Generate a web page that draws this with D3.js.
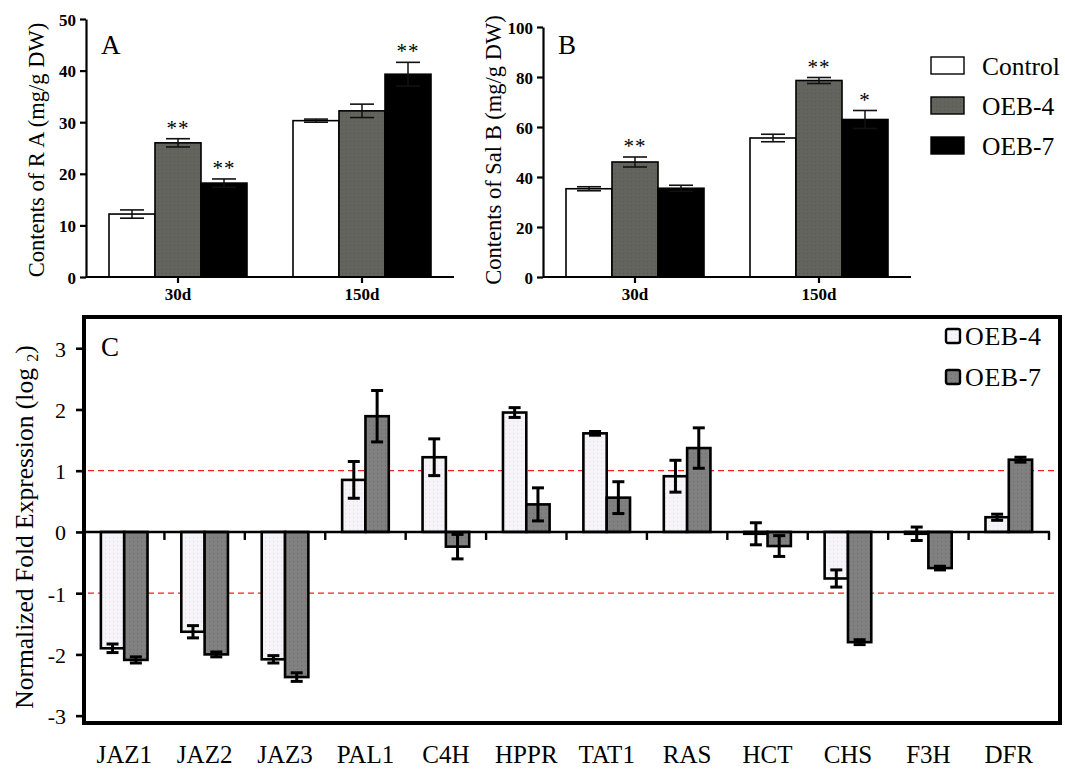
<!DOCTYPE html>
<html>
<head>
<meta charset="utf-8">
<script src="https://cdn.jsdelivr.net/npm/d3@7/dist/d3.min.js"></script>
<style>
  body { margin: 0; background: #fff; }
  svg { display: block; font-family: "Liberation Serif", "Times New Roman", serif; }
</style>
</head>
<body>
<svg width="1065" height="771"></svg>
<script>
// panels A and B
var groups = ['30d', '150d'];
var lines = ['Control', 'OEB-4', 'OEB-7'];
var lineFill = ['#ffffff', '#62625c', '#000000'];

var raMean = [[12.2, 26.0, 18.2], [30.3, 32.2, 39.3]];
var raErr = [[0.8, 0.8, 0.8], [0.3, 1.3, 2.3]];
var raStars = [['', '**', '**'], ['', '', '**']];

var salMean = [[35.3, 46.0, 35.5], [55.6, 78.6, 63.0]];
var salErr = [[0.8, 2.0, 1.2], [1.5, 1.2, 3.6]];
var salStars = [['', '**', ''], ['', '**', '*']];

var raTicks = [0, 10, 20, 30, 40, 50];
var salTicks = [0, 20, 40, 60, 80, 100];

// panel C
var genes = ['JAZ1', 'JAZ2', 'JAZ3', 'PAL1', 'C4H', 'HPPR', 'TAT1', 'RAS', 'HCT', 'CHS', 'F3H', 'DFR'];
var oeb4Mean = [-1.90, -1.63, -2.08, 0.85, 1.22, 1.95, 1.61, 0.91, -0.03, -0.76, -0.03, 0.24];
var oeb4Err  = [0.07, 0.10, 0.06, 0.30, 0.30, 0.08, 0.03, 0.26, 0.18, 0.14, 0.11, 0.05];
var oeb7Mean = [-2.09, -2.00, -2.37, 1.89, -0.24, 0.45, 0.56, 1.37, -0.23, -1.80, -0.59, 1.18];
var oeb7Err  = [0.05, 0.04, 0.07, 0.42, 0.20, 0.27, 0.26, 0.33, 0.17, 0.04, 0.03, 0.04];
var cTicks = [-3, -2, -1, 0, 1, 2, 3];
var cRefLines = [1, -1];

var serif = 'Liberation Serif, Times New Roman, serif';
var svg = d3.select('svg');

var defs = svg.append('defs');
function dots(id, bg, dot) {
  var p = defs.append('pattern').attr('id', id)
    .attr('width', 4).attr('height', 4).attr('patternUnits', 'userSpaceOnUse');
  p.append('rect').attr('width', 4).attr('height', 4).attr('fill', bg);
  p.append('rect').attr('x', 1).attr('y', 1).attr('width', 1).attr('height', 1).attr('fill', dot);
}
dots('dg-light', '#f6f4f8', '#e2dde6');
dots('dg-dark', '#808080', '#6c6c66');
dots('dg-ab', '#64645e', '#56564f');

function barPanel(x0, x1, yTop, yMax, ticks, mean, err, stars, letter, label) {
  var g = svg.append('g');
  var x = d3.scaleBand().domain(groups).range([x0, x1]).paddingInner(0.25).paddingOuter(0.125);
  var xs = d3.scaleBand().domain(lines).range([0, x.bandwidth()]);
  var y = d3.scaleLinear().domain([0, yMax]).range([277, yTop]);

  var grp = g.selectAll('.grp').data(groups).enter().append('g')
    .attr('transform', function(d) { return 'translate(' + x(d) + ',0)'; });

  grp.each(function(gname, gi) {
    var sel = d3.select(this);
    lines.forEach(function(s, si) {
      var v = mean[gi][si], e = err[gi][si], cx = xs(s) + xs.bandwidth() / 2;
      sel.append('rect')
        .attr('x', xs(s)).attr('y', y(v))
        .attr('width', xs.bandwidth()).attr('height', y(0) - y(v))
        .attr('fill', si === 1 ? 'url(#dg-ab)' : lineFill[si])
        .attr('stroke', '#000').attr('stroke-width', 1.6);
      sel.append('line').attr('x1', cx).attr('x2', cx)
        .attr('y1', y(v - e)).attr('y2', y(v + e))
        .attr('stroke', '#111').attr('stroke-width', 1.5);
      [v + e, v - e].forEach(function(t) {
        sel.append('line').attr('x1', cx - 12).attr('x2', cx + 12)
          .attr('y1', y(t)).attr('y2', y(t))
          .attr('stroke', '#111').attr('stroke-width', 1.6);
      });
      if (stars[gi][si]) {
        sel.append('text').attr('x', cx).attr('y', y(v + e) - 4)
          .attr('text-anchor', 'middle').attr('font-size', 21)
          .attr('letter-spacing', 1).text(stars[gi][si]);
      }
    });
  });

  var ya = g.append('g').attr('transform', 'translate(' + x0 + ',0)')
    .call(d3.axisLeft(y).tickValues(ticks).tickSize(6).tickSizeOuter(0).tickPadding(4));
  ya.select('.domain').attr('stroke-width', 2.2);
  ya.selectAll('.tick line').attr('stroke-width', 2.2);
  ya.selectAll('.tick text').attr('font-family', serif).attr('font-weight', 'bold')
    .attr('font-size', 17).attr('fill', '#000').attr('dy', '0.36em');

  var xa = g.append('g').attr('transform', 'translate(0,277)')
    .call(d3.axisBottom(x).tickSize(6).tickSizeOuter(0).tickPadding(5));
  xa.select('.domain').attr('stroke-width', 2.2).attr('d', 'M' + x0 + ',0H' + x1);
  xa.selectAll('.tick line').attr('stroke-width', 2.2);
  xa.selectAll('.tick text').attr('font-family', serif).attr('font-weight', 'bold')
    .attr('font-size', 17).attr('fill', '#000');

  g.append('text').attr('x', x0 + 15).attr('y', 54).attr('font-size', 27).text(letter);
  g.append('text').attr('transform', 'translate(' + (x0 - 42) + ',150) rotate(-90)')
    .attr('text-anchor', 'middle').attr('font-size', 22.5).text(label);
}

barPanel(86, 454, 19, 50, raTicks, raMean, raErr, raStars, 'A', 'Contents of R A (mg/g DW)');
barPanel(543, 911, 27, 100, salTicks, salMean, salErr, salStars, 'B', 'Contents of Sal B (mg/g DW)');

// legend for A and B
var lg = svg.append('g').attr('transform', 'translate(931,57)');
lines.forEach(function(s, i) {
  lg.append('rect').attr('x', 0).attr('y', i * 40).attr('width', 33).attr('height', 17)
    .attr('fill', i === 1 ? 'url(#dg-ab)' : lineFill[i]).attr('stroke', '#000').attr('stroke-width', 1.4);
  lg.append('text').attr('x', 51).attr('y', i * 40 + 18).attr('font-size', 25.5).text(s);
});

// panel C
var cL = 84, cR = 1060, cT = 317, cB = 723;
var gc = svg.append('g');
var xc = d3.scaleBand().domain(genes).range([84, 1049]).paddingInner(0.42).paddingOuter(0.21);
var xc2 = d3.scaleBand().domain(['OEB-4', 'OEB-7']).range([0, xc.bandwidth()]);
var yc = d3.scaleLinear().domain([-3.12, 3.51]).range([cB, cT]);

gc.selectAll('.ref').data(cRefLines).enter().append('line')
  .attr('x1', cL + 4).attr('x2', cR - 6)
  .attr('y1', function(d) { return yc(d); }).attr('y2', function(d) { return yc(d); })
  .attr('stroke', '#ee2222').attr('stroke-width', 1.2).attr('stroke-dasharray', '6,4');

var series = [
  { key: 'OEB-4', mean: oeb4Mean, err: oeb4Err, fill: 'url(#dg-light)' },
  { key: 'OEB-7', mean: oeb7Mean, err: oeb7Err, fill: 'url(#dg-dark)' }
];

series.forEach(function(s) {
  var bars = gc.selectAll('.b-' + s.key).data(genes).enter().append('g');
  bars.append('rect')
    .attr('x', function(d) { return xc(d) + xc2(s.key); })
    .attr('y', function(d, i) { return yc(Math.max(0, s.mean[i])); })
    .attr('width', xc2.bandwidth())
    .attr('height', function(d, i) { return Math.abs(yc(s.mean[i]) - yc(0)); })
    .attr('fill', s.fill).attr('stroke', '#000').attr('stroke-width', 2.6);
  bars.append('line')
    .attr('x1', function(d) { return xc(d) + xc2(s.key) + xc2.bandwidth() / 2; })
    .attr('x2', function(d) { return xc(d) + xc2(s.key) + xc2.bandwidth() / 2; })
    .attr('y1', function(d, i) { return yc(s.mean[i] - s.err[i]); })
    .attr('y2', function(d, i) { return yc(s.mean[i] + s.err[i]); })
    .attr('stroke', '#000').attr('stroke-width', 3);
  [1, -1].forEach(function(sign) {
    bars.append('line')
      .attr('x1', function(d) { return xc(d) + xc2(s.key) + xc2.bandwidth() / 2 - 6; })
      .attr('x2', function(d) { return xc(d) + xc2(s.key) + xc2.bandwidth() / 2 + 6; })
      .attr('y1', function(d, i) { return yc(s.mean[i] + sign * s.err[i]); })
      .attr('y2', function(d, i) { return yc(s.mean[i] + sign * s.err[i]); })
      .attr('stroke', '#000').attr('stroke-width', 3);
  });
});

// zero line with category ticks
gc.append('line').attr('x1', cL).attr('x2', 1050).attr('y1', yc(0)).attr('y2', yc(0))
  .attr('stroke', '#000').attr('stroke-width', 2.6);
gc.selectAll('.ztick').data(genes).enter().append('line')
  .attr('x1', function(d) { return xc(d) - xc.paddingOuter() * xc.step() + xc.step(); })
  .attr('x2', function(d) { return xc(d) - xc.paddingOuter() * xc.step() + xc.step(); })
  .attr('y1', yc(0)).attr('y2', yc(0) + 8)
  .attr('stroke', '#000').attr('stroke-width', 2.4);

// frame
gc.append('rect').attr('x', cL).attr('y', cT).attr('width', cR - cL).attr('height', cB - cT)
  .attr('fill', 'none').attr('stroke', '#000').attr('stroke-width', 4);

var yca = gc.append('g').attr('transform', 'translate(' + cL + ',0)')
  .call(d3.axisLeft(yc).tickValues(cTicks).tickSize(8).tickPadding(10)
    .tickFormat(function(d) { return String(d); }));
yca.select('.domain').remove();
yca.selectAll('.tick line').attr('stroke-width', 2.6);
yca.selectAll('.tick text').attr('font-family', serif).attr('font-size', 22).attr('fill', '#000')
  .attr('dy', '0.36em');

var xca = gc.append('g').attr('transform', 'translate(0,' + cB + ')')
  .call(d3.axisBottom(xc).tickSize(0).tickPadding(0));
xca.select('.domain').remove();
xca.selectAll('.tick text').attr('font-family', serif).attr('font-size', 25).attr('fill', '#000')
  .attr('y', 40).attr('dy', 0);

gc.append('text').attr('x', 101).attr('y', 356).attr('font-size', 27).text('C');

var yl = gc.append('text').attr('transform', 'translate(33,' + ((cT + cB) / 2 + 7) + ') rotate(-90)')
  .attr('text-anchor', 'middle').attr('font-size', 25.5);
yl.append('tspan').text('Normalized Fold Expression (log ');
yl.append('tspan').attr('font-size', 16).attr('dy', 5).text('2');
yl.append('tspan').attr('dy', -5).text(')');

var lc = gc.append('g').attr('transform', 'translate(946,329)');
series.forEach(function(s, i) {
  lc.append('rect').attr('x', 0).attr('y', i * 41).attr('width', 14).attr('height', 14)
    .attr('rx', 2).attr('fill', s.fill).attr('stroke', '#000').attr('stroke-width', 2.4);
  lc.append('text').attr('x', 19).attr('y', i * 41 + 16).attr('font-size', 26)
    .attr('letter-spacing', 0.6).text(s.key);
});
</script>
</body>
</html>
